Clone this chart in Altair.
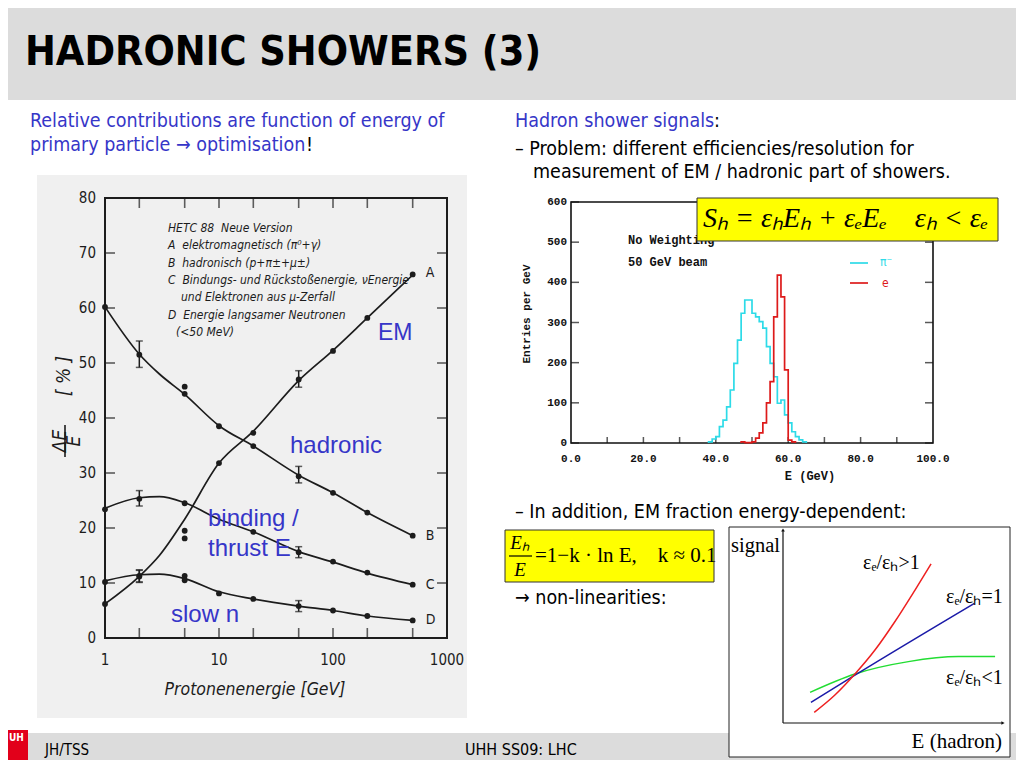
import altair as alt
import pandas as pd

# ---------------- data ----------------
# Left panel: fraction of deposited energy vs proton energy (HETC 88)
E_nodes = [1, 2, 3, 5, 10, 20, 50, 100, 200, 500]
curve_A = [6.2, 11.2, 15.0, 21.6, 31.8, 37.6, 46.8, 52.3, 58.2, 66.0]   # EM
curve_B = [60.2, 51.6, 48.0, 44.3, 38.6, 34.9, 29.6, 26.4, 22.8, 18.6]  # hadronic
curve_C = [23.6, 25.5, 25.7, 24.6, 21.6, 19.3, 15.7, 13.8, 11.8, 9.7]   # binding
curve_D = [10.4, 11.5, 11.6, 10.8, 8.4, 7.1, 5.8, 5.0, 4.0, 3.2]        # slow n

pts_A_E = [1, 2, 5, 5, 10, 20, 50, 100, 200, 500]
pts_A = [6.2, 11.3, 19.5, 18.1, 31.8, 37.3, 47.0, 52.2, 58.2, 66.1]
pts_B_E = [1, 2, 5, 5, 10, 20, 50, 100, 200, 500]
pts_B = [60.2, 51.5, 45.7, 44.4, 38.5, 34.9, 29.4, 26.4, 22.8, 18.6]
pts_C_E = [1, 2, 5, 20, 50, 100, 200, 500]
pts_C = [23.4, 25.3, 24.5, 19.3, 15.6, 13.9, 11.9, 9.7]
pts_D_E = [1, 2, 5, 5, 10, 20, 50, 100, 200, 500]
pts_D = [10.2, 11.2, 11.3, 10.5, 8.1, 7.1, 5.8, 5.0, 4.0, 3.2]

err_E = [2, 50, 2, 50, 2, 50, 2, 50]
err_lo = [10.2, 45.6, 49.2, 28.2, 24.0, 14.6, 10.1, 4.8]
err_hi = [12.4, 48.6, 54.0, 31.2, 26.8, 16.6, 12.3, 6.8]

end_labels = ["A", "B", "C", "D"]
end_label_E = [650, 650, 650, 650]
end_label_v = [66.3, 18.6, 9.7, 3.2]

left_xticks = [1, 2, 5, 10, 20, 50, 100, 200, 500]
left_xlabels = [1, 10, 100, 1000]
left_yticks = [10, 20, 30, 40, 50, 60, 70]
left_ylabels = [0, 10, 20, 30, 40, 50, 60, 70, 80]
left_xdom = [1, 1000]
left_ydom = [0, 80]

NB = "\u00a0"
legend_lines = [
    "HETC 88" + NB * 2 + "Neue Version",
    "A" + NB * 2 + "elektromagnetisch (π⁰+γ)",
    "B" + NB * 2 + "hadronisch (p+π±+μ±)",
    "C" + NB * 2 + "Bindungs- und Rückstoßenergie, νEnergie",
    "und Elektronen aus μ-Zerfall",
    "D" + NB * 2 + "Energie langsamer Neutronen",
    "(<50 MeV)",
]
legend_indent = [0, 0, 0, 0, 13, 0, 8]

# Top-right panel: 50 GeV beam, entries per GeV (1 GeV bins)
pi_start = 38
pi_counts = [3, 10, 16, 41, 57, 90, 132, 198, 256, 323, 356, 356, 323, 314,
             302, 286, 240, 198, 165, 99, 107, 70, 50, 28, 16, 8, 3]
e_start = 47
e_counts = [3, 1, 1, 3, 12, 25, 50, 100, 153, 314, 418, 364, 182, 7, 3]
hist_xdom = [0, 100]
hist_ydom = [0, 600]
hist_xlabels = [0, 20, 40, 60, 80, 100]
hist_xticks = [10, 20, 30, 40, 50, 60, 70, 80, 90]
hist_ylabels = [0, 100, 200, 300, 400, 500, 600]

# Bottom-right sketch: signal vs E (hadron), arbitrary units
sk_red_x = [1.42, 2.36, 3.27, 4.18, 5.09, 6.0, 6.73]
sk_red_y = [0.55, 1.45, 2.54, 3.78, 5.26, 6.89, 8.24]
sk_blue_x = [1.27, 3.27, 8.7]
sk_blue_y = [1.07, 2.48, 6.2]
sk_green_x = [1.23, 3.27, 5.7, 7.97, 9.64]
sk_green_y = [1.59, 2.54, 3.18, 3.44, 3.44]
sk_dom = [0, 10]

# ---------------- helpers ----------------
BLUE = "#3636c8"
INK = "#1c1c1c"
SANS = "DejaVu Sans Condensed, DejaVu Sans, sans-serif"
SERIF = "Liberation Serif, Times New Roman, serif"
MONO = "Liberation Mono, Courier New, monospace"
ARIAL = "Liberation Sans, Arial, sans-serif"
BODY = 19.5
one = pd.DataFrame({"k": [0]})


def box(x1, y1, x2, y2, **kw):
    return alt.Chart(one).mark_rect(**kw).encode(
        x=alt.value(x1), x2=alt.value(x2), y=alt.value(y1), y2=alt.value(y2))


def txt(s, x, y, **kw):
    kw.setdefault("align", "left")
    kw.setdefault("baseline", "middle")
    return alt.Chart(one).mark_text(text=s, **kw).encode(
        x=alt.value(x), y=alt.value(y))


def line(x1, y1, x2, y2, **kw):
    return alt.Chart(one).mark_rule(**kw).encode(
        x=alt.value(x1), x2=alt.value(x2), y=alt.value(y1), y2=alt.value(y2))


def LX(f):
    return alt.X(f, type="quantitative", axis=None,
                 scale=alt.Scale(type="log", domain=left_xdom, range=[97, 439], nice=False))


def LY(f):
    return alt.Y(f, type="quantitative", axis=None,
                 scale=alt.Scale(domain=left_ydom, range=[630, 190], nice=False, zero=False))


def HX(f):
    return alt.X(f, type="quantitative", axis=None,
                 scale=alt.Scale(domain=hist_xdom, range=[563, 925], nice=False, zero=False))


def HY(f):
    return alt.Y(f, type="quantitative", axis=None,
                 scale=alt.Scale(domain=hist_ydom, range=[435, 194], nice=False, zero=False))


def SX(f):
    return alt.X(f, type="quantitative", axis=None,
                 scale=alt.Scale(domain=sk_dom, range=[775, 995], nice=False, zero=False))


def SY(f):
    return alt.Y(f, type="quantitative", axis=None,
                 scale=alt.Scale(domain=sk_dom, range=[715, 522], nice=False, zero=False))


layers = []

# ---------------- slide frame ----------------
layers.append(box(0, 0, 1008, 92, color="#dcdcdc"))
layers.append(box(0, 725, 1008, 752, color="#dcdcdc"))
layers.append(box(0, 722, 20, 752, color="#e2001a"))
layers.append(txt("UH", 1, 730, color="white", font=SANS, fontSize=10, fontWeight="bold"))
layers.append(txt("HADRONIC SHOWERS (3)", 17, 45, font=SANS, fontSize=41, fontWeight="bold", color="black"))
layers.append(txt("JH/TSS", 37, 742, font=SANS, fontSize=15, color="black"))
layers.append(txt("UHH SS09: LHC", 457, 742, font=SANS, fontSize=16, color="black"))

# left column text
layers.append(txt("Relative contributions are function of energy of", 22, 113, font=SANS, fontSize=BODY, color=BLUE))
layers.append(txt("primary particle → optimisation", 22, 137, font=SANS, fontSize=BODY, color=BLUE))
layers.append(txt("!", 298, 137, font=SANS, fontSize=BODY, color="black"))

# right column text
layers.append(txt("Hadron shower signals", 507, 113, font=SANS, fontSize=BODY, color=BLUE))
layers.append(txt(":", 706, 113, font=SANS, fontSize=BODY, color="black"))
layers.append(txt("– Problem: different efficiencies/resolution for", 507, 141, font=SANS, fontSize=BODY, color="black"))
layers.append(txt("measurement of EM / hadronic part of showers.", 525, 164, font=SANS, fontSize=BODY, color="black"))
layers.append(txt("– In addition, EM fraction energy-dependent:", 507, 504, font=SANS, fontSize=BODY, color="black"))
layers.append(txt("→ non-linearities:", 507, 590, font=SANS, fontSize=BODY, color="black"))

# ---------------- left panel ----------------
layers.append(box(29, 167, 459, 710, color="#f0f0f0"))

frame_df = pd.DataFrame({"x1": [left_xdom[0]], "x2": [left_xdom[1]], "y1": [left_ydom[0]], "y2": [left_ydom[1]]})
layers.append(alt.Chart(frame_df).mark_rect(fillOpacity=0, stroke=INK, strokeWidth=2).encode(
    x=LX("x1"), x2="x2", y=LY("y1"), y2="y2"))

xt_df = pd.DataFrame({"E": left_xticks, "b": [left_ydom[0]] * len(left_xticks), "t": [left_ydom[1]] * len(left_xticks)})
layers.append(alt.Chart(xt_df).mark_tick(orient="vertical", size=10, thickness=1.6, yOffset=-5, color=INK).encode(
    x=LX("E"), y=LY("b")))
layers.append(alt.Chart(xt_df).mark_tick(orient="vertical", size=10, thickness=1.6, yOffset=5, color=INK).encode(
    x=LX("E"), y=LY("t")))
yt_df = pd.DataFrame({"v": left_yticks, "l": [left_xdom[0]] * len(left_yticks), "r": [left_xdom[1]] * len(left_yticks)})
layers.append(alt.Chart(yt_df).mark_tick(orient="horizontal", size=10, thickness=1.6, xOffset=5, color=INK).encode(
    x=LX("l"), y=LY("v")))
layers.append(alt.Chart(yt_df).mark_tick(orient="horizontal", size=10, thickness=1.6, xOffset=-5, color=INK).encode(
    x=LX("r"), y=LY("v")))

xl_df = pd.DataFrame({"E": left_xlabels, "y": [left_ydom[0]] * len(left_xlabels), "lab": [str(v) for v in left_xlabels]})
layers.append(alt.Chart(xl_df).mark_text(dy=22, font=SANS, fontSize=15, color=INK).encode(
    x=LX("E"), y=LY("y"), text="lab:N"))
yl_df = pd.DataFrame({"v": left_ylabels, "x": [left_xdom[0]] * len(left_ylabels), "lab": [str(v) for v in left_ylabels]})
layers.append(alt.Chart(yl_df).mark_text(dx=-9, align="right", font=SANS, fontSize=15, color=INK).encode(
    x=LX("x"), y=LY("v"), text="lab:N"))

curve_df = pd.DataFrame({
    "E": E_nodes * 4,
    "v": curve_A + curve_B + curve_C + curve_D,
    "s": ["A"] * len(E_nodes) + ["B"] * len(E_nodes) + ["C"] * len(E_nodes) + ["D"] * len(E_nodes),
})
layers.append(alt.Chart(curve_df).mark_line(interpolate="monotone", color=INK, strokeWidth=1.7).encode(
    x=LX("E"), y=LY("v"), detail="s:N"))

pts_df = pd.DataFrame({
    "E": pts_A_E + pts_B_E + pts_C_E + pts_D_E,
    "v": pts_A + pts_B + pts_C + pts_D,
})
layers.append(alt.Chart(pts_df).mark_circle(size=34, color=INK, opacity=1).encode(x=LX("E"), y=LY("v")))

err_df = pd.DataFrame({"E": err_E, "lo": err_lo, "hi": err_hi})
layers.append(alt.Chart(err_df).mark_rule(color=INK, strokeWidth=1.5).encode(x=LX("E"), y=LY("lo"), y2="hi"))
layers.append(alt.Chart(err_df).mark_tick(orient="horizontal", size=7, thickness=1.5, color=INK).encode(x=LX("E"), y=LY("lo")))
layers.append(alt.Chart(err_df).mark_tick(orient="horizontal", size=7, thickness=1.5, color=INK).encode(x=LX("E"), y=LY("hi")))

end_df = pd.DataFrame({"E": end_label_E, "v": end_label_v, "lab": end_labels})
layers.append(alt.Chart(end_df).mark_text(align="left", font=SANS, fontSize=14, color=INK).encode(
    x=LX("E"), y=LY("v"), text="lab:N"))

for i, s in enumerate(legend_lines):
    layers.append(txt(s, 160 + legend_indent[i], 220 + 17.3 * i, font=SANS, fontSize=12, fontStyle="italic", color=INK))

layers.append(txt("Protonenenergie [GeV]", 247, 682, align="center", font=SANS, fontSize=17.5,
                  fontStyle="italic", color=INK))
layers.append(txt("[" + NB + "%" + NB + "]", 56, 368, align="center", angle=270, font=SANS, fontSize=19,
                  fontStyle="italic", color=INK))
layers.append(txt("ΔE", 52, 433, align="center", angle=270, font=SANS, fontSize=19, fontStyle="italic", color=INK))
layers.append(line(57, 417, 57, 449, color=INK, strokeWidth=1.6))
layers.append(txt("E", 66, 433, align="center", angle=270, font=SANS, fontSize=19, fontStyle="italic", color=INK))

layers.append(txt("EM", 370, 325, font=ARIAL, fontSize=23, color=BLUE))
layers.append(txt("hadronic", 282, 438, font=ARIAL, fontSize=24, color=BLUE))
layers.append(txt("binding /", 200, 511, font=ARIAL, fontSize=24, color=BLUE))
layers.append(txt("thrust E", 200, 541, font=ARIAL, fontSize=24, color=BLUE))
layers.append(txt("slow n", 163, 607, font=ARIAL, fontSize=24, color=BLUE))

# ---------------- histogram panel ----------------
hframe_df = pd.DataFrame({"x1": [hist_xdom[0]], "x2": [hist_xdom[1]], "y1": [hist_ydom[0]], "y2": [hist_ydom[1]]})
layers.append(alt.Chart(hframe_df).mark_rect(fillOpacity=0, stroke="#111", strokeWidth=1.6).encode(
    x=HX("x1"), x2="x2", y=HY("y1"), y2="y2"))

hyt_df = pd.DataFrame({"v": hist_ylabels, "l": [hist_xdom[0]] * len(hist_ylabels), "r": [hist_xdom[1]] * len(hist_ylabels),
                       "lab": [str(v) for v in hist_ylabels]})
layers.append(alt.Chart(hyt_df).mark_tick(orient="horizontal", size=8, thickness=1.5, xOffset=4, color="#111").encode(
    x=HX("l"), y=HY("v")))
layers.append(alt.Chart(hyt_df).mark_tick(orient="horizontal", size=8, thickness=1.5, xOffset=-4, color="#111").encode(
    x=HX("r"), y=HY("v")))
layers.append(alt.Chart(hyt_df).mark_text(dx=-4, align="right", font=MONO, fontSize=11, fontWeight="bold", color="#111").encode(
    x=HX("l"), y=HY("v"), text="lab:N"))
hxt_df = pd.DataFrame({"x": hist_xticks, "b": [hist_ydom[0]] * len(hist_xticks)})
layers.append(alt.Chart(hxt_df).mark_tick(orient="vertical", size=6, thickness=1.5, yOffset=-3, color="#111").encode(
    x=HX("x"), y=HY("b")))
hxl_df = pd.DataFrame({"x": hist_xlabels, "b": [hist_ydom[0]] * len(hist_xlabels), "lab": [f"{v:.1f}" for v in hist_xlabels]})
layers.append(alt.Chart(hxl_df).mark_text(dy=16, font=MONO, fontSize=11, fontWeight="bold", color="#111").encode(
    x=HX("x"), y=HY("b"), text="lab:N"))


def steps(start, counts):
    xs = [start] + [start + i for i in range(len(counts))] + [start + len(counts)]
    ys = [0] + counts + [0]
    return pd.DataFrame({"x": xs, "y": ys, "o": list(range(len(xs)))})


layers.append(alt.Chart(steps(pi_start, pi_counts)).mark_line(interpolate="step-after", color="#2ddbe8", strokeWidth=1.7).encode(
    x=HX("x"), y=HY("y"), order="o:Q"))
layers.append(alt.Chart(steps(e_start, e_counts)).mark_line(interpolate="step-after", color="#dd1a1a", strokeWidth=1.7).encode(
    x=HX("x"), y=HY("y"), order="o:Q"))

layers.append(txt("No Weighting", 620, 232, font=MONO, fontSize=12, fontWeight="bold", color="#111"))
layers.append(txt("50 GeV beam", 620, 254, font=MONO, fontSize=12, fontWeight="bold", color="#111"))
layers.append(line(842, 255, 860, 255, color="#2ddbe8", strokeWidth=1.7))
layers.append(txt("π⁻", 872, 254, font=SANS, fontSize=12, color="#2ddbe8"))
layers.append(line(842, 275, 860, 275, color="#dd1a1a", strokeWidth=1.7))
layers.append(txt("e", 874, 275, font=SANS, fontSize=12, color="#dd1a1a"))
layers.append(txt("Entries per GeV", 519, 306, align="center", angle=270, font=MONO, fontSize=11,
                  fontWeight="bold", color="#111"))
layers.append(txt("E (GeV)", 802, 468, align="center", font=MONO, fontSize=12, fontWeight="bold", color="#111"))

# formula box 1
layers.append(box(689, 190, 990, 233, color="#ffff00", stroke="#333", strokeWidth=1))
layers.append(txt("Sₕ" + NB + "=" + NB + "εₕEₕ" + NB + "+" + NB + "εₑEₑ" + NB * 4 + "εₕ" + NB + "<" + NB + "εₑ",
                  695, 211, font=SERIF, fontSize=28, fontStyle="italic", color="black"))

# ---------------- bottom-right ----------------
layers.append(box(497, 522, 706, 574, color="#ffff00", stroke="#333", strokeWidth=1))
layers.append(txt("Eₕ", 512, 535, align="center", font=SERIF, fontSize=19, fontStyle="italic", color="black"))
layers.append(line(501, 548, 524, 548, color="black", strokeWidth=1.2))
layers.append(txt("E", 512, 562, align="center", font=SERIF, fontSize=19, fontStyle="italic", color="black"))
layers.append(txt("=1−" + "k" + NB + "·" + NB + "ln" + NB + "E," + NB * 4 + "k" + NB + "≈" + NB + "0.1",
                  527, 548, font=SERIF, fontSize=21, color="black"))

layers.append(box(721, 519, 1002, 749, color="white", stroke="#222", strokeWidth=1))

ax_df = pd.DataFrame({"x0": [sk_dom[0]], "x1": [sk_dom[1]], "y0": [sk_dom[0]], "y1": [sk_dom[1]]})
layers.append(alt.Chart(ax_df).mark_rule(color="#111", strokeWidth=1.2).encode(x=SX("x0"), y=SY("y0"), y2="y1"))
layers.append(alt.Chart(ax_df).mark_rule(color="#111", strokeWidth=1.2).encode(x=SX("x0"), x2="x1", y=SY("y0")))
layers.append(alt.Chart(ax_df).mark_point(shape="triangle-up", filled=True, size=14, color="#111", opacity=1).encode(
    x=SX("x0"), y=SY("y1")))
layers.append(alt.Chart(ax_df).mark_point(shape="triangle-right", filled=True, size=14, color="#111", opacity=1).encode(
    x=SX("x1"), y=SY("y0")))

for xs, ys, col in [(sk_green_x, sk_green_y, "#22dd33"), (sk_blue_x, sk_blue_y, "#1a1aa8"), (sk_red_x, sk_red_y, "#ee2020")]:
    d = pd.DataFrame({"x": xs, "y": ys})
    layers.append(alt.Chart(d).mark_line(interpolate="monotone", color=col, strokeWidth=1.5).encode(x=SX("x"), y=SY("y")))

layers.append(txt("signal", 723, 538, font=SERIF, fontSize=20.5, color="black"))
layers.append(txt("εₑ/εₕ>1", 855, 555, font=SERIF, fontSize=20, color="black"))
layers.append(txt("εₑ/εₕ=1", 938, 589, font=SERIF, fontSize=20, color="black"))
layers.append(txt("εₑ/εₕ<1", 938, 670, font=SERIF, fontSize=20, color="black"))
layers.append(txt("E (hadron)", 994, 734, align="right", font=SERIF, fontSize=21, color="black"))

chart = alt.layer(*layers).resolve_scale(x="independent", y="independent").properties(
    width=1008, height=752, padding=0, autosize=alt.AutoSizeParams(type="none"), background="white"
).configure_view(strokeWidth=0)

chart.save("out.html", embed_options={"renderer": "svg", "actions": False})
